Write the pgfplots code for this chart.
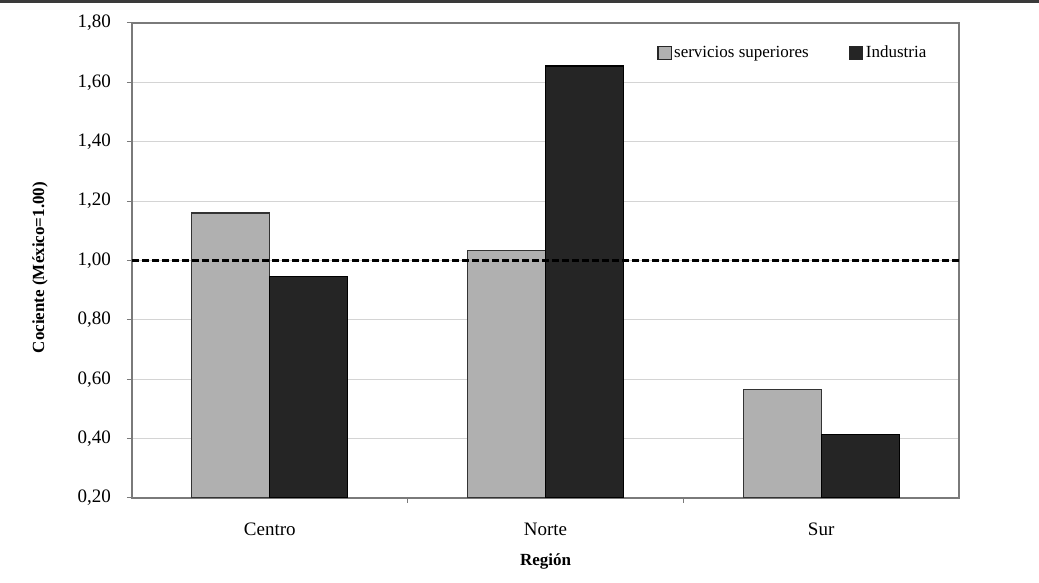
\documentclass[border=0pt]{standalone}
\usepackage{fontspec}
\setmainfont{Liberation Serif}
\usepackage{pgfplots}
\pgfplotsset{compat=1.18}
\definecolor{barlight}{HTML}{B0B0B0}
\definecolor{bardark}{HTML}{252525}
\definecolor{axisgray}{HTML}{7A7A7A}
\definecolor{gridgray}{HTML}{D4D4D4}
\definecolor{rulegray}{HTML}{3A3A3A}
\begin{document}
\begin{tikzpicture}
\useasboundingbox (-66pt,-42.5pt) rectangle (453.5pt,249pt);
\draw[rulegray, line width=1.2pt] (-66pt,248.3pt) -- (453.5pt,248.3pt);
\begin{axis}[
  scale only axis,
  width=413.5pt, height=237.5pt,
  ybar=0pt, bar width=39pt,
  xmin=-0.5, xmax=2.5,
  ymin=0.2, ymax=1.8,
  xtick={0,1,2},
  xticklabels={Centro,Norte,Sur},
  major x tick style={draw=none},
  minor xtick={0.5,1.5},
  ytick={0.2,0.4,...,1.81},
  tick pos=left,
  tick align=outside,
  major tick length=2.5pt,
  minor tick length=2.5pt,
  tick style={axisgray, line width=0.5pt},
  axis line style={axisgray, line width=0.8pt},
  ymajorgrids,
  grid style={gridgray, line width=0.6pt},
  /pgf/number format/.cd, use comma, fixed, fixed zerofill, precision=2, assume math mode=true,
  /pgfplots/.cd,
  yticklabel style={font=\fontsize{9.5}{11}\selectfont, anchor=east, xshift=-4.5pt},
  xticklabel style={font=\fontsize{9.5}{11}\selectfont, yshift=-6.5pt},
  ylabel={Cociente (México=1.00)},
  xlabel={Región},
  ylabel style={font=\fontsize{8.5}{10}\selectfont\bfseries, at={(axis description cs:-0.1112,0.485)}, anchor=center},
  xlabel style={font=\fontsize{8.5}{10}\selectfont\bfseries, at={(axis description cs:0.5,-0.1326)}, anchor=center},
  legend style={draw=none, fill=none, at={(axis description cs:0.6275,0.937)}, anchor=west,
    font=\fontsize{8.5}{10}\selectfont, legend columns=2,
    /tikz/every even column/.append style={column sep=19pt},
    nodes={inner xsep=1.2pt}},
  legend image code/.code={\draw[#1, draw=black!85, line width=0.6pt] (0pt,-3.3pt) rectangle (6.6pt,3.3pt);},
]
\addplot[fill=barlight, draw=black!80, line width=0.6pt] coordinates {(0,1.16) (1,1.035) (2,0.565)};
\addplot[fill=bardark, draw=black, line width=0.6pt] coordinates {(0,0.945) (1,1.655) (2,0.415)};
\legend{servicios superiores, Industria}
\addplot[sharp plot, black, line width=1.8pt, dash pattern=on 3.5pt off 1.5pt, forget plot, bar shift=0pt] coordinates {(-0.5,1) (2.5,1)};
\end{axis}
\end{tikzpicture}
\end{document}
